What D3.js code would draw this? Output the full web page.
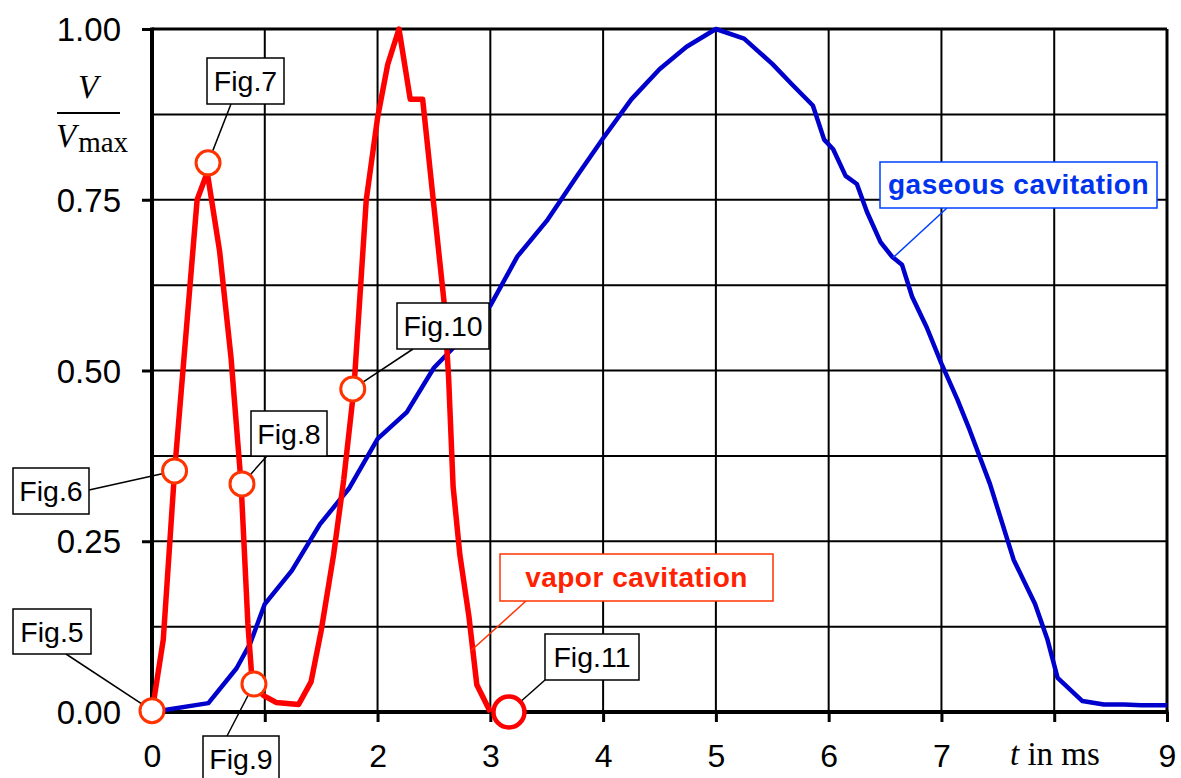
<!DOCTYPE html>
<html><head><meta charset="utf-8">
<script src="https://cdn.jsdelivr.net/npm/d3@7"></script>
<style>body{margin:0;background:#fff} svg{display:block}</style>
</head><body><svg id="c" width="1181" height="778"></svg>
<script>
// ---- data ----
const vaporT = [0, 0.1, 0.2, 0.4, 0.49, 0.6, 0.7, 0.79, 0.85, 0.89, 0.99, 1.1, 1.3, 1.41, 1.5, 1.61, 1.7, 1.79, 1.9, 2.0, 2.09, 2.19, 2.29, 2.4, 2.5, 2.59, 2.63, 2.67, 2.73, 2.81, 2.88, 3.0];
const vaporV = [0, 0.106, 0.352, 0.75, 0.79, 0.674, 0.52, 0.334, 0.13, 0.04, 0.024, 0.014, 0.011, 0.044, 0.119, 0.23, 0.34, 0.473, 0.75, 0.87, 0.948, 1.0, 0.897, 0.897, 0.74, 0.60, 0.49, 0.33, 0.23, 0.14, 0.04, 0];
const gasT = [0, 0.5, 0.75, 0.87, 1.0, 1.24, 1.49, 1.75, 2.0, 2.26, 2.5, 2.67, 3.0, 3.24, 3.5, 3.77, 4.0, 4.25, 4.5, 4.74, 5.0, 5.25, 5.5, 5.68, 5.86, 5.96, 6.04, 6.15, 6.25, 6.34, 6.46, 6.56, 6.65, 6.74, 6.87, 7.0, 7.14, 7.25, 7.43, 7.64, 7.83, 7.94, 8.03, 8.25, 8.44, 8.62, 8.77, 9.0];
const gasV = [0, 0.013, 0.064, 0.1, 0.158, 0.207, 0.275, 0.328, 0.40, 0.439, 0.504, 0.533, 0.595, 0.667, 0.719, 0.785, 0.84, 0.897, 0.941, 0.974, 1.0, 0.986, 0.949, 0.918, 0.888, 0.838, 0.824, 0.785, 0.773, 0.732, 0.688, 0.667, 0.655, 0.608, 0.563, 0.51, 0.458, 0.413, 0.334, 0.223, 0.158, 0.106, 0.05, 0.016, 0.011, 0.011, 0.01, 0.01];
const figNames = ["Fig.5", "Fig.6", "Fig.7", "Fig.8", "Fig.9", "Fig.10", "Fig.11"];
const figT = [0, 0.2, 0.497, 0.798, 0.904, 1.78, 3.165];
const figV = [0.002, 0.353, 0.804, 0.334, 0.041, 0.473, 0];
const xTicks = [0, 1, 2, 3, 4, 5, 6, 7, 8, 9];
const xTickLabels = ["0", "", "2", "3", "4", "5", "6", "7", "", "9"];
const yTicks = [0, 0.25, 0.5, 0.75, 1];
const yTickLabels = ["0.00", "0.25", "0.50", "0.75", "1.00"];
const yGrid = [0.125, 0.25, 0.375, 0.5, 0.625, 0.75, 0.875];
const seriesNames = ["vapor cavitation", "gaseous cavitation"];

// ---- layout ----
const L = 152, T = 29, W = 1015, H = 683;
const svg = d3.select("#c");
const x = d3.scaleLinear().domain([0, 9]).range([L, L + W]);
const y = d3.scaleLinear().domain([0, 1]).range([T + H, T]);
const sans = "'Liberation Sans', Arial, sans-serif";
const serif = "'Liberation Serif', 'Times New Roman', serif";

// grid
const g = svg.append("g");
g.selectAll(".vg").data(xTicks.slice(1, -1)).join("line")
  .attr("x1", d => x(d)).attr("x2", d => x(d)).attr("y1", T).attr("y2", T + H)
  .attr("stroke", "#000").attr("stroke-width", 2);
g.selectAll(".hg").data(yGrid).join("line")
  .attr("x1", L).attr("x2", L + W).attr("y1", d => y(d)).attr("y2", d => y(d))
  .attr("stroke", "#000").attr("stroke-width", 2);

// axes
const xAxis = d3.axisBottom(x).tickValues(xTicks).tickSize(10).tickPadding(14)
  .tickFormat((d, i) => xTickLabels[i]);
const gx = svg.append("g").attr("transform", `translate(0,${T + H})`).call(xAxis);
gx.select(".domain").remove();
gx.selectAll(".tick line").attr("stroke", "#000").attr("stroke-width", 3);
gx.selectAll(".tick text").attr("font-family", sans).attr("font-size", 32).attr("fill", "#000")
  .attr("dy", null).attr("y", 55);

const yAxis = d3.axisLeft(y).tickValues(yTicks).tickSize(10).tickPadding(21)
  .tickFormat((d, i) => yTickLabels[i]);
const gy = svg.append("g").attr("transform", `translate(${L},0)`).call(yAxis);
gy.select(".domain").remove();
gy.selectAll(".tick line").attr("stroke", "#000").attr("stroke-width", 3);
gy.selectAll(".tick text").attr("font-family", sans).attr("font-size", 33).attr("fill", "#000")
  .attr("dy", "0.35em");

// frame
svg.append("line").attr("x1", L).attr("x2", L + W).attr("y1", T).attr("y2", T).attr("stroke", "#000").attr("stroke-width", 3);
svg.append("line").attr("x1", L + W).attr("x2", L + W).attr("y1", T).attr("y2", T + H).attr("stroke", "#000").attr("stroke-width", 3);
svg.append("line").attr("x1", L).attr("x2", L).attr("y1", T - 1.5).attr("y2", T + H + 2).attr("stroke", "#000").attr("stroke-width", 4);
svg.append("line").attr("x1", L - 2).attr("x2", L + W + 1.5).attr("y1", T + H).attr("y2", T + H).attr("stroke", "#000").attr("stroke-width", 4);

// lines
const line = d3.line().x(d => x(d[0])).y(d => y(d[1]));
svg.append("path").datum(gasT.map((t, i) => [t, gasV[i]])).attr("d", line)
  .attr("fill", "none").attr("stroke", "#0000cc").attr("stroke-width", 4.5).attr("stroke-linejoin", "round");
svg.append("path").datum(vaporT.map((t, i) => [t, vaporV[i]])).attr("d", line)
  .attr("fill", "none").attr("stroke", "#ff0000").attr("stroke-width", 5.5).attr("stroke-linejoin", "round");

// callouts
const boxes = [
  {x: 13, y: 609, w: 78, h: 45, ax: 66, ay: 654},
  {x: 13, y: 468, w: 76, h: 46, ax: 89, ay: 490},
  {x: 207, y: 58, w: 77, h: 46, ax: 231, ay: 104},
  {x: 251, y: 411, w: 76, h: 45, ax: 267, ay: 456},
  {x: 203, y: 736, w: 76, h: 46, ax: 227, ay: 736},
  {x: 397, y: 303, w: 92, h: 46, ax: 413, ay: 349},
  {x: 545, y: 634, w: 94, h: 46, ax: 545, ay: 680}
];
const cg = svg.append("g");
figNames.forEach((n, i) => {
  const b = boxes[i];
  cg.append("line").attr("x1", b.ax).attr("y1", b.ay).attr("x2", x(figT[i])).attr("y2", y(figV[i]))
    .attr("stroke", "#000").attr("stroke-width", 1.5);
});
figNames.forEach((n, i) => {
  const big = i === figNames.length - 1;
  cg.append("circle").attr("cx", x(figT[i])).attr("cy", y(figV[i])).attr("r", big ? 15.5 : 12)
    .attr("fill", "#fff").attr("stroke", big ? "#ff0000" : "#ff3300").attr("stroke-width", big ? 4.5 : 3);
});
figNames.forEach((n, i) => {
  const b = boxes[i];
  cg.append("rect").attr("x", b.x).attr("y", b.y).attr("width", b.w).attr("height", b.h)
    .attr("fill", "#fff").attr("stroke", "#000").attr("stroke-width", 1.5);
  cg.append("text").attr("x", b.x + b.w / 2).attr("y", b.y + b.h / 2 + 10)
    .attr("text-anchor", "middle").attr("font-family", sans).attr("font-size", 28.5).attr("fill", "#000").text(n);
});

// series labels
const sl = [
  {x: 500, y: 554, w: 273, h: 47, ax: 526, ay: 601, tx: x(2.83), ty: y(0.09), stroke: "#ff3300", fill: "#ff2200"},
  {x: 880, y: 162, w: 277, h: 46, ax: 947, ay: 208, tx: x(6.57), ty: y(0.665), stroke: "#0040ff", fill: "#0033ee"}
];
seriesNames.forEach((n, i) => {
  const s = sl[i];
  svg.append("line").attr("x1", s.ax).attr("y1", s.ay).attr("x2", s.tx).attr("y2", s.ty)
    .attr("stroke", s.stroke).attr("stroke-width", 1.5);
  svg.append("rect").attr("x", s.x).attr("y", s.y).attr("width", s.w).attr("height", s.h)
    .attr("fill", "#fff").attr("stroke", s.stroke).attr("stroke-width", 1.5);
  svg.append("text").attr("x", s.x + s.w / 2).attr("y", s.y + s.h / 2 + 9)
    .attr("text-anchor", "middle").attr("font-family", sans).attr("font-weight", "bold")
    .attr("font-size", 28).attr("letter-spacing", 0.5).attr("fill", s.fill).text(n);
});

// y title: V / V_max
const yt = svg.append("g");
yt.append("text").attr("x", 88).attr("y", 98).attr("text-anchor", "middle")
  .attr("font-family", serif).attr("font-style", "italic").attr("font-size", 33).text("V");
yt.append("line").attr("x1", 57).attr("x2", 120).attr("y1", 113).attr("y2", 113).attr("stroke", "#000").attr("stroke-width", 2);
const vm = yt.append("text").attr("x", 56).attr("y", 147).attr("font-family", serif).attr("font-size", 33);
vm.append("tspan").attr("font-style", "italic").text("V");
vm.append("tspan").attr("font-size", 29).attr("dy", 5).attr("dx", 2).text("max");

// x title
const xt = svg.append("text").attr("x", 1010).attr("y", 765).attr("font-family", serif).attr("font-size", 33);
xt.append("tspan").attr("font-style", "italic").text("t");
xt.append("tspan").text(" in ms");
</script>
</body></html>
